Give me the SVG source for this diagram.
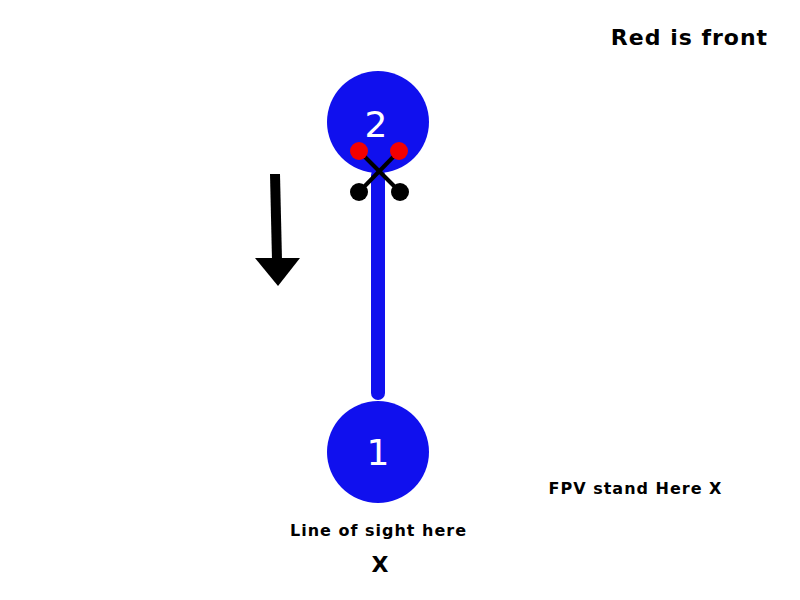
<svg xmlns="http://www.w3.org/2000/svg" width="800" height="600" viewBox="0 0 800 600">
<style>
.node{fill:#1010ee;}
.num{fill:#fff;font-family:"DejaVu Sans",sans-serif;font-size:36px;text-anchor:middle;}
.lbl{fill:#000;font-family:"DejaVu Sans",sans-serif;font-weight:bold;letter-spacing:1px;text-anchor:middle;}
.red{fill:#f20000;}
.blk{fill:#000;}
</style>
<rect width="800" height="600" fill="#fff"/>
<g id="connectors">
<line x1="378" y1="175" x2="378" y2="393" stroke="#1010ee" stroke-width="14" stroke-linecap="round"/>
<line x1="275" y1="174" x2="277" y2="260" stroke="#000" stroke-width="10"/>
<polygon points="255,258 300,258 278,286" fill="#000"/>
</g>
<g id="node2">
<circle class="node" cx="378" cy="122" r="51"/>
<text class="num" x="376" y="137">2</text>
<line x1="359" y1="151" x2="400" y2="192" stroke="#000" stroke-width="4"/>
<line x1="399" y1="151" x2="359" y2="192" stroke="#000" stroke-width="4"/>
<circle class="red" cx="359" cy="151" r="9"/>
<circle class="red" cx="399" cy="151" r="9"/>
<circle class="blk" cx="359" cy="192" r="9"/>
<circle class="blk" cx="400" cy="192" r="9"/>
</g>
<g id="node1">
<circle class="node" cx="378" cy="452" r="51"/>
<text class="num" x="378" y="465" font-size="35">1</text>
</g>
<text class="lbl" x="689.5" y="45" font-size="22">Red is front</text>
<text class="lbl" x="635.5" y="494" font-size="16">FPV stand Here X</text>
<text class="lbl" x="378.5" y="536" font-size="16">Line of sight here</text>
<text class="lbl" x="380.5" y="572" font-size="22">X</text>
</svg>
